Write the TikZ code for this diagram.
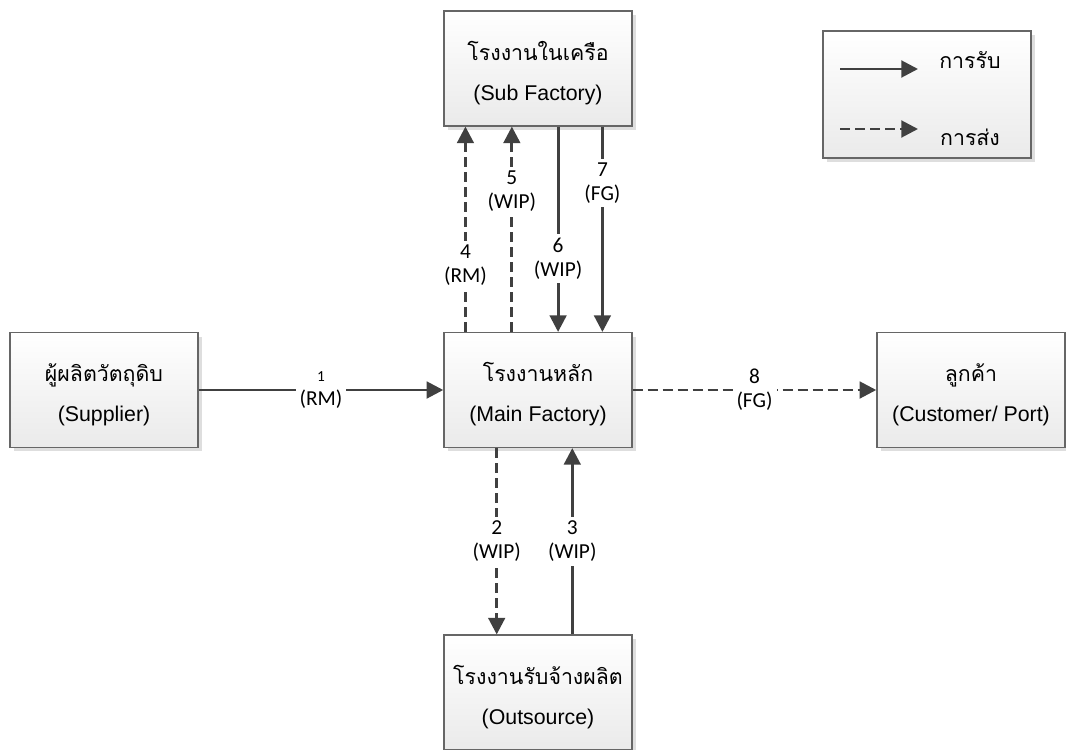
\documentclass[tikz,border=0pt]{standalone}
\usepackage{fontspec}
\setmainfont{Liberation Sans}
\newfontfamily\thaifont[Script=Thai]{Loma}
\newfontfamily\lblfont{Carlito}
\usepackage{tikz}
\usetikzlibrary{arrows.meta,shadows,calc}
\usepackage{xcolor}
\definecolor{edgegray}{HTML}{666666}
\definecolor{linegray}{HTML}{404040}
\definecolor{boxbot}{HTML}{EAEAEA}
\tikzset{
  plant/.style={draw=edgegray, line width=1.1pt, top color=white, bottom color=boxbot,
    minimum width=141pt, minimum height=86pt, align=center,
    font=\fontsize{16}{30}\selectfont,
    drop shadow={shadow xshift=3pt, shadow yshift=-3pt, fill=black!13, opacity=1}},
  recv/.style={draw=linegray, line width=2.2pt, -{Triangle[length=12.5pt,width=12.5pt]}},
  send/.style={recv, dash pattern=on 7.5pt off 3.75pt},
  flowlbl/.style={fill=white, inner sep=3pt, align=center, text=black,
    font=\lblfont\fontsize{16}{18}\selectfont},
  keytext/.style={font=\thaifont\fontsize{16}{20}\selectfont}
}
\newcommand{\thtext}[1]{{\thaifont\fontsize{16}{30}\selectfont\rule{0pt}{21pt}#1}}

\begin{document}
\begin{tikzpicture}[x=0.75pt,y=-0.75pt]
    \useasboundingbox (0,0) rectangle (1066,749);

    % plants
    \node[plant] (sub)  at (538,68.5) {\thtext{โรงงานในเครือ}\\(Sub Factory)};
    \node[plant] (main) at (538,390)  {\thtext{โรงงานหลัก}\\(Main Factory)};
    \node[plant] (supp) at (104,390)  {\thtext{ผู้ผลิตวัตถุดิบ}\\(Supplier)};
    \node[plant] (cust) at (971,390)  {\thtext{ลูกค้า}\\(Customer/ Port)};
    \node[plant] (outs) at (538,692.5) {\thtext{โรงงานรับจ้างผลิต}\\(Outsource)};

    % legend
    \node[plant, minimum width=156pt, minimum height=95pt] (legend) at (927,94.5) {};
    \coordinate (ra) at (840,69);  \coordinate (rb) at (918,69);
    \coordinate (sa) at (840,129); \coordinate (sb) at (918,129);
    \draw[recv] (ra) -- (rb);
    \draw[send] (sa) -- (sb);
    \node[keytext] (rtxt) at (970,60)  {การรับ};
    \node[keytext] (stxt) at (970,137) {การส่ง};

    % flows
    \draw[recv] (supp) -- (main)
      node[flowlbl, pos=.5] {{\fontsize{11.5}{13}\selectfont 1}\\(RM)};
    \draw[send] (main) -- (cust) node[flowlbl, pos=.5] {8\\(FG)};

    \foreach \f/\p/\t in {.117/.325/{4\\(RM)}, .362/.687/{5\\(WIP)}}
      \draw[send] ($(main.north west)!\f!(main.north east)$) -- ($(sub.south west)!\f!(sub.south east)$)
        node[flowlbl, pos=\p] {\t};
    \foreach \f/\p/\t in {.606/.643/{6\\(WIP)}, .840/.274/{7\\(FG)}}
      \draw[recv] ($(sub.south west)!\f!(sub.south east)$) -- ($(main.north west)!\f!(main.north east)$)
        node[flowlbl, pos=\p] {\t};

    \draw[send] ($(main.south west)!.282!(main.south east)$) -- ($(outs.north west)!.282!(outs.north east)$)
      node[flowlbl, pos=.5] {2\\(WIP)};
    \draw[recv] ($(outs.north west)!.681!(outs.north east)$) -- ($(main.south west)!.681!(main.south east)$)
      node[flowlbl, pos=.5] {3\\(WIP)};
\end{tikzpicture}
\end{document}
